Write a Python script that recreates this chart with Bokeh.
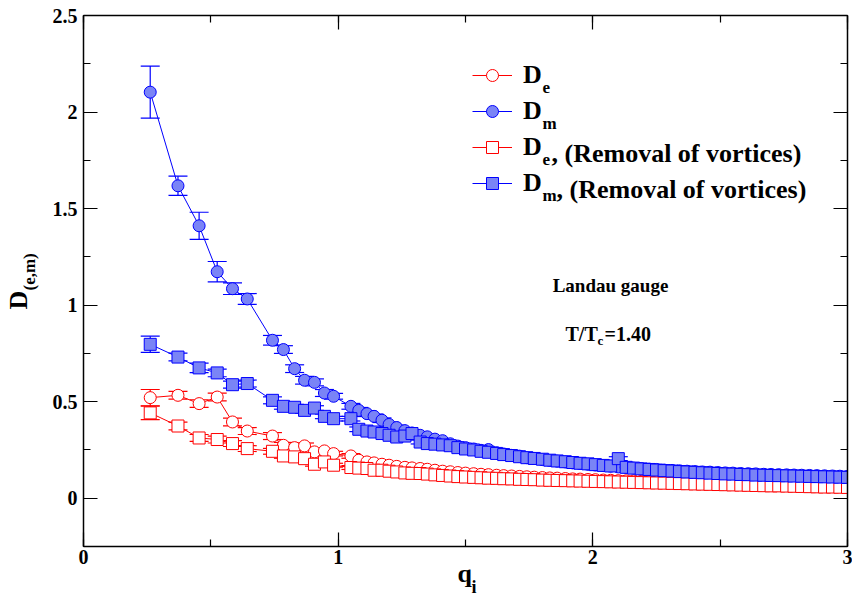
import numpy as np
from bokeh.plotting import figure
from bokeh.models import (Range1d, LinearAxis, SingleIntervalTicker, ColumnDataSource,
                          Whisker, TeeHead, Legend, LegendItem, Label, Title,
                          CustomLabelingPolicy)
from bokeh.embed import file_html
from bokeh.resources import INLINE

# ---------------- data ----------------
q = [0.262, 0.371, 0.454, 0.525, 0.585, 0.643, 0.742, 0.785, 0.829, 0.868,
     0.907, 0.946, 0.982, 1.050, 1.081, 1.113, 1.141, 1.172, 1.200, 1.230,
     1.262, 1.290, 1.322, 1.350, 1.380, 1.410, 1.440, 1.470, 1.500, 1.532,
     1.561, 1.590, 1.622, 1.650, 1.681, 1.712, 1.741, 1.770, 1.802, 1.831,
     1.860, 1.892, 1.921, 1.950, 1.981, 2.010, 2.041, 2.070, 2.100, 2.131,
     2.160, 2.190, 2.221, 2.250, 2.280, 2.311, 2.340, 2.370, 2.401, 2.430,
     2.460, 2.491, 2.520, 2.550, 2.581, 2.610, 2.640, 2.671, 2.700, 2.730,
     2.761, 2.790, 2.820, 2.851, 2.880, 2.910, 2.941, 2.970, 3.000]

D_e = [0.521, 0.533, 0.490, 0.524, 0.395, 0.348, 0.322, 0.274, 0.262, 0.271,
       0.240, 0.245, 0.231, 0.219, 0.197, 0.188, 0.183, 0.176, 0.171, 0.165,
       0.160, 0.157, 0.154, 0.150, 0.145, 0.140, 0.137, 0.133, 0.130, 0.127,
       0.124, 0.122, 0.119, 0.117, 0.115, 0.113, 0.111, 0.109, 0.107, 0.105,
       0.104, 0.102, 0.100, 0.099, 0.097, 0.096, 0.094, 0.093, 0.091, 0.090,
       0.089, 0.087, 0.086, 0.085, 0.084, 0.083, 0.081, 0.080, 0.079, 0.078,
       0.077, 0.076, 0.075, 0.074, 0.073, 0.072, 0.071, 0.070, 0.069, 0.068,
       0.068, 0.067, 0.066, 0.065, 0.064, 0.063, 0.063, 0.062, 0.061]
D_e_err = [0.042, 0.020, 0.020, 0.020, 0.020, 0.018, 0.018, 0.015, 0.015, 0.015,
           0.012, 0.012, 0.012, 0.012, 0.012, 0.012, 0.010, 0.010, 0.010, 0.010,
           0.010, 0.010, 0.010, 0.010, 0.010, 0.010, 0.010, 0.010, 0.010, 0.010,
           0.010, 0.010, 0.010, 0.010, 0.010, 0.010, 0.010, 0.010, 0.010, 0.010,
           0.010, 0.010, 0.010, 0.010, 0.010, 0.010, 0.010, 0.010, 0.010, 0.010,
           0.010, 0.010, 0.010, 0.010, 0.010, 0.010, 0.010, 0.010, 0.010, 0.010,
           0.010, 0.010, 0.010, 0.010, 0.010, 0.010, 0.010, 0.010, 0.010, 0.010,
           0.010, 0.010, 0.010, 0.010, 0.010, 0.010, 0.010, 0.010, 0.010]

D_m = [2.103, 1.618, 1.411, 1.173, 1.085, 1.032, 0.818, 0.770, 0.671, 0.611,
       0.600, 0.545, 0.528, 0.476, 0.455, 0.438, 0.424, 0.404, 0.382, 0.366,
       0.350, 0.338, 0.326, 0.318, 0.306, 0.298, 0.282, 0.270, 0.262, 0.255,
       0.248, 0.252, 0.236, 0.229, 0.222, 0.218, 0.210, 0.206, 0.200, 0.196,
       0.192, 0.188, 0.183, 0.180, 0.176, 0.172, 0.169, 0.166, 0.162, 0.160,
       0.156, 0.154, 0.151, 0.149, 0.146, 0.144, 0.142, 0.140, 0.138, 0.136,
       0.135, 0.133, 0.131, 0.130, 0.128, 0.127, 0.126, 0.124, 0.123, 0.122,
       0.121, 0.120, 0.119, 0.118, 0.117, 0.116, 0.115, 0.114, 0.113]
D_m_err = [0.135, 0.050, 0.070, 0.053, 0.030, 0.028, 0.025, 0.020, 0.020, 0.020,
           0.018, 0.018, 0.015, 0.015, 0.015, 0.015, 0.012, 0.012, 0.012, 0.012,
           0.012, 0.012, 0.012, 0.012, 0.010, 0.010, 0.010, 0.010, 0.010, 0.010,
           0.010, 0.010, 0.010, 0.010, 0.010, 0.010, 0.010, 0.010, 0.010, 0.010,
           0.010, 0.010, 0.010, 0.010, 0.010, 0.010, 0.010, 0.010, 0.010, 0.010,
           0.010, 0.010, 0.010, 0.010, 0.010, 0.010, 0.010, 0.010, 0.010, 0.010,
           0.010, 0.010, 0.010, 0.010, 0.010, 0.010, 0.010, 0.010, 0.010, 0.010,
           0.010, 0.010, 0.010, 0.010, 0.010, 0.010, 0.010, 0.010, 0.010]

D_e_rv = [0.442, 0.374, 0.312, 0.304, 0.283, 0.257, 0.243, 0.219, 0.214, 0.205,
          0.176, 0.188, 0.171, 0.159, 0.156, 0.154, 0.145, 0.145, 0.140, 0.136,
          0.131, 0.129, 0.128, 0.125, 0.121, 0.118, 0.115, 0.112, 0.110, 0.108,
          0.106, 0.104, 0.103, 0.101, 0.100, 0.098, 0.097, 0.096, 0.094, 0.093,
          0.092, 0.091, 0.090, 0.089, 0.088, 0.087, 0.086, 0.085, 0.084, 0.083,
          0.082, 0.081, 0.080, 0.079, 0.078, 0.077, 0.076, 0.075, 0.074, 0.073,
          0.072, 0.071, 0.070, 0.069, 0.068, 0.067, 0.066, 0.065, 0.064, 0.064,
          0.063, 0.062, 0.061, 0.060, 0.059, 0.058, 0.058, 0.057, 0.056]
D_e_rv_err = [0.035, 0.020, 0.018, 0.018, 0.015, 0.015, 0.015, 0.012, 0.012, 0.012,
              0.010, 0.010, 0.010, 0.010, 0.010, 0.010, 0.010, 0.010, 0.010, 0.010,
              0.010, 0.010, 0.010, 0.010, 0.010, 0.010, 0.010, 0.010, 0.010, 0.010,
              0.010, 0.010, 0.010, 0.010, 0.010, 0.010, 0.010, 0.010, 0.010, 0.010,
              0.010, 0.010, 0.010, 0.010, 0.010, 0.010, 0.010, 0.010, 0.010, 0.010,
              0.010, 0.010, 0.010, 0.010, 0.010, 0.010, 0.010, 0.010, 0.010, 0.010,
              0.010, 0.010, 0.010, 0.010, 0.010, 0.010, 0.010, 0.010, 0.010, 0.010,
              0.010, 0.010, 0.010, 0.010, 0.010, 0.010, 0.010, 0.010, 0.010]

D_m_rv = [0.797, 0.731, 0.675, 0.649, 0.588, 0.594, 0.507, 0.476, 0.471, 0.455,
          0.467, 0.424, 0.412, 0.412, 0.357, 0.348, 0.343, 0.335, 0.326, 0.317,
          0.322, 0.335, 0.291, 0.283, 0.280, 0.276, 0.272, 0.262, 0.255, 0.250,
          0.243, 0.238, 0.232, 0.226, 0.221, 0.215, 0.210, 0.206, 0.202, 0.197,
          0.193, 0.189, 0.185, 0.181, 0.178, 0.174, 0.170, 0.167, 0.205, 0.160,
          0.156, 0.152, 0.149, 0.146, 0.143, 0.141, 0.138, 0.136, 0.134, 0.132,
          0.130, 0.128, 0.126, 0.125, 0.123, 0.122, 0.120, 0.119, 0.118, 0.117,
          0.116, 0.115, 0.114, 0.113, 0.112, 0.111, 0.110, 0.109, 0.108]
D_m_rv_err = [0.042, 0.020, 0.025, 0.020, 0.018, 0.018, 0.018, 0.015, 0.015, 0.015,
              0.012, 0.012, 0.012, 0.012, 0.012, 0.012, 0.010, 0.010, 0.010, 0.010,
              0.010, 0.010, 0.010, 0.010, 0.010, 0.010, 0.010, 0.010, 0.010, 0.010,
              0.010, 0.010, 0.010, 0.010, 0.010, 0.010, 0.010, 0.010, 0.010, 0.010,
              0.010, 0.010, 0.010, 0.010, 0.010, 0.010, 0.010, 0.010, 0.010, 0.010,
              0.010, 0.010, 0.010, 0.010, 0.010, 0.010, 0.010, 0.010, 0.010, 0.010,
              0.010, 0.010, 0.010, 0.010, 0.010, 0.010, 0.010, 0.010, 0.010, 0.010,
              0.010, 0.010, 0.010, 0.010, 0.010, 0.010, 0.010, 0.010, 0.010]

SERIF = "Liberation Serif"
RED = "#ff0000"
BLUE = "#0000ff"
BLUE_FILL = "#7a84f6"

# ---------------- figure ----------------
p = figure(width=852, height=603, x_range=Range1d(0, 3), y_range=Range1d(-0.25, 2.5),
           output_backend="svg", toolbar_location=None,
           min_border_left=83, min_border_right=5, min_border_top=15, min_border_bottom=57)
p.xgrid.visible = False
p.ygrid.visible = False
p.outline_line_color = "black"
p.background_fill_color = "white"
p.border_fill_color = "white"

HIDE = "for (const i of indices) { indices.unset(i) }\nreturn indices"


def style_axis(ax, ticker, show_labels, standoff):
    ax.ticker = ticker
    ax.axis_line_color = "black"
    ax.axis_line_width = 1.5
    ax.major_tick_in = 14
    ax.major_tick_out = 0
    ax.minor_tick_in = 7
    ax.minor_tick_out = 0
    ax.major_tick_line_color = "black"
    ax.minor_tick_line_color = "black"
    ax.major_tick_line_width = 1.2
    ax.minor_tick_line_width = 1.2
    ax.major_label_text_font = SERIF
    ax.major_label_text_font_style = "bold"
    ax.major_label_text_color = "black"
    ax.major_label_standoff = standoff
    if show_labels:
        ax.major_label_text_font_size = "20px"
    else:
        # mirrored ticks only: labels are filtered out and take (almost) no room
        ax.major_label_text_font_size = "1px"
        ax.major_label_policy = CustomLabelingPolicy(code=HIDE)


style_axis(p.xaxis[0], SingleIntervalTicker(interval=1, num_minor_ticks=2), True, 3)
style_axis(p.yaxis[0], SingleIntervalTicker(interval=0.5, num_minor_ticks=2), True, 6)
top = LinearAxis()
right = LinearAxis()
style_axis(top, SingleIntervalTicker(interval=1, num_minor_ticks=2), False, 0)
style_axis(right, SingleIntervalTicker(interval=0.5, num_minor_ticks=2), False, 0)
p.add_layout(top, "above")
p.add_layout(right, "right")

# ---------------- series ----------------
series = [
    (D_e, D_e_err, "circle", RED, "white"),
    (D_m, D_m_err, "circle", BLUE, BLUE_FILL),
    (D_e_rv, D_e_rv_err, "square", RED, "white"),
    (D_m_rv, D_m_rv_err, "square", BLUE, BLUE_FILL),
]
legend_items = []
for vals, errs, marker, col, fill in series:
    v = np.array(vals)
    e = np.array(errs)
    src = ColumnDataSource(dict(q=q, y=vals, lo=list(v - e), hi=list(v + e)))
    ln = p.line("q", "y", source=src, line_color=col, line_width=1)
    wh = Whisker(source=src, base="q", upper="hi", lower="lo", dimension="height",
                 line_color=col, line_width=1.2,
                 upper_head=TeeHead(size=19, line_color=col, line_width=1.2),
                 lower_head=TeeHead(size=19, line_color=col, line_width=1.2))
    p.add_layout(wh)
    sc = p.scatter("q", "y", source=src, marker=marker, size=12,
                   fill_color=fill, line_color=col, line_width=1)
    legend_items.append(LegendItem(label="D", renderers=[ln, sc]))

legend = Legend(items=legend_items, location=(389, 348), orientation="vertical",
                glyph_width=40, glyph_height=30, label_height=30, spacing=6,
                padding=0, margin=0, label_standoff=11,
                label_text_font=SERIF, label_text_font_style="bold",
                label_text_font_size="26px", label_text_color="black",
                border_line_color=None, background_fill_alpha=0)
p.add_layout(legend)

# ---------------- texts inside the frame (screen px, frame-relative) ----------------
FR_L, FR_B = 83, 546


def txt(text, px, py, size, align="left"):
    p.add_layout(Label(x=px - FR_L, y=FR_B - py, x_units="screen", y_units="screen",
                       text=text, text_font=SERIF, text_font_style="bold",
                       text_font_size=f"{size}px", text_color="black",
                       text_align=align, text_baseline="alphabetic"))


rows_y = [75, 111, 147, 183]
subs = ["e", "m", "e", "m"]
for i, (yy, s) in enumerate(zip(rows_y, subs)):
    txt(s, 542, yy + 12, 17)
    if i >= 2:
        txt(", (Removal of vortices)", 551 if s == "e" else 556, yy + 6, 26)

txt("Landau gauge", 610, 285, 19, align="center")
txt("T/T", 565, 333, 20)
txt("c", 597, 340, 13)
txt("=1.40", 604, 333, 20)


# ---------------- axis titles (side-panel titles) ----------------
def title(text, size, offset, valign, standoff):
    return Title(text=text, align="left", offset=offset, vertical_align=valign,
                 standoff=standoff, text_font=SERIF, text_font_style="bold",
                 text_font_size=f"{size}px", text_color="black")


p.add_layout(title("q", 26, 374, "top", -14.6), "below")
p.add_layout(title("i", 18, 388, "top", -10.6), "below")
p.add_layout(title("(e,m)", 17, 256, "bottom", 20.6), "left")
p.add_layout(title("D", 26, 237, "bottom", -50), "left")

open("out.html", "w").write(file_html(p, INLINE))
